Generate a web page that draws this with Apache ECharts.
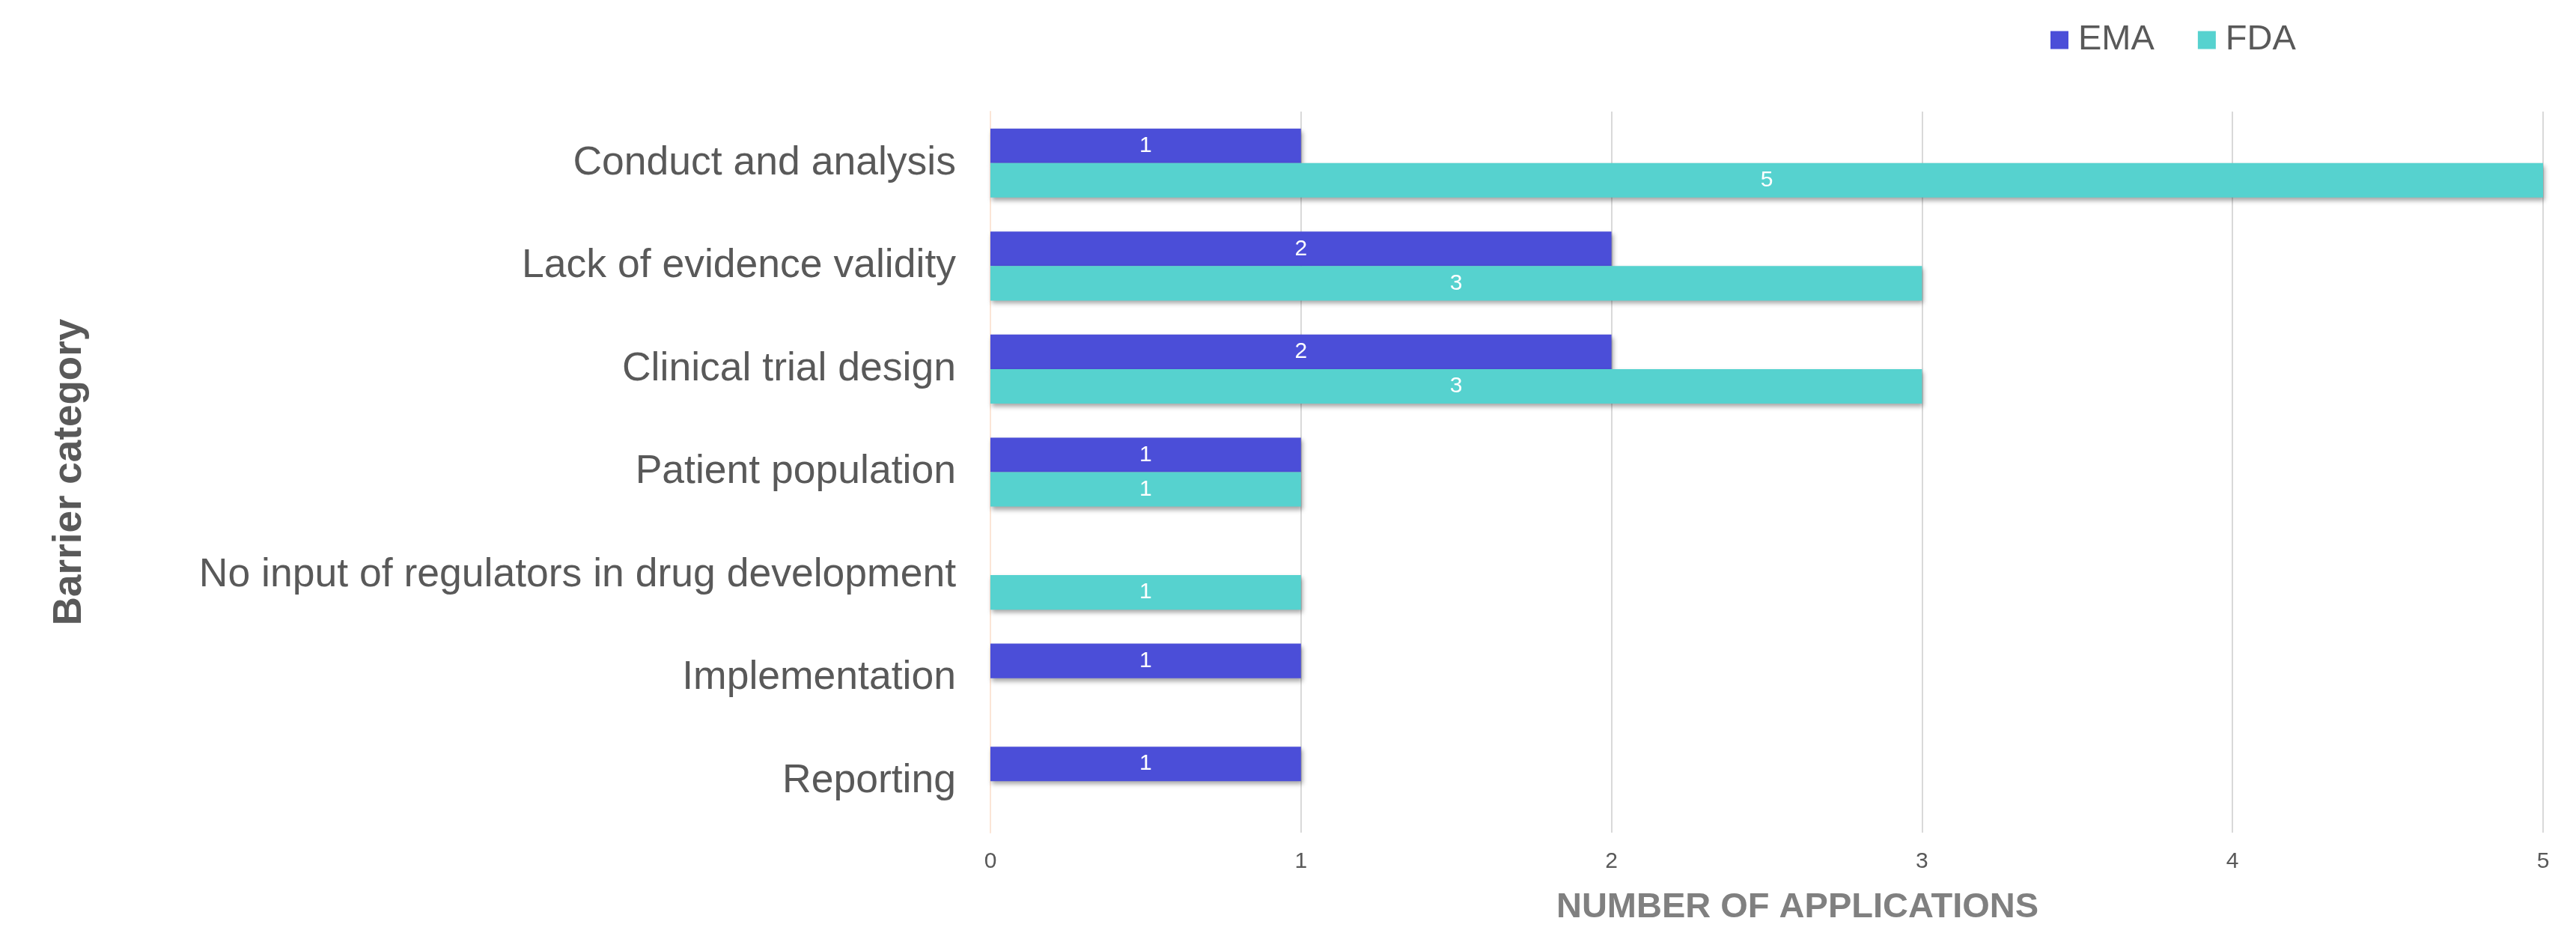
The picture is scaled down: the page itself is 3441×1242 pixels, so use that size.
<!DOCTYPE html>
<html>
<head>
<meta charset="utf-8">
<script src="https://cdn.jsdelivr.net/npm/echarts@6/dist/echarts.min.js"></script>
<style>
    html, body { margin: 0; padding: 0; background: #fff; }
    #chart { width: 3441px; height: 1242px; }
</style>
</head>
<body>
<div id="chart"></div>
<script>
// 类别和数据
var categories = ['Conduct and analysis', 'Lack of evidence validity', 'Clinical trial design',
    'Patient population', 'No input of regulators in drug development', 'Implementation', 'Reporting'];
var emaValues = [1, 2, 2, 1, 0, 1, 1];
var fdaValues = [5, 3, 3, 1, 1, 0, 0];
var xTicks = [0, 1, 2, 3, 4, 5];

var font = "'Liberation Sans', Arial, sans-serif";

function barLabel() {
    return {
        show: true,
        position: 'inside',
        color: '#fff',
        fontSize: 30,
        fontFamily: font,
        formatter: function (p) {
            return p.value === 0 ? '' : p.value;
        }
    };
}

var shadow = {
    shadowColor: 'rgba(0,0,0,0.35)',
    shadowBlur: 6,
    shadowOffsetX: 2,
    shadowOffsetY: 4
};

var myChart = echarts.init(document.getElementById('chart'));
var option = {
    backgroundColor: '#fff',
    animation: false,
    legend: {
        left: 2739,
        top: 30,
        padding: 0,
        itemWidth: 24,
        itemHeight: 24,
        itemGap: 58,
        icon: 'rect',
        textStyle: { fontSize: 47, color: '#595959', fontFamily: font, padding: [0, 0, 0, 8] },
        data: ['EMA', 'FDA']
    },
    grid: { left: 1323, right: 44, top: 149, bottom: 130, containLabel: false },
    xAxis: {
        type: 'value',
        min: xTicks[0],
        max: xTicks[xTicks.length - 1],
        interval: 1,
        name: 'NUMBER OF APPLICATIONS',
        nameLocation: 'middle',
        nameGap: 77,
        nameTextStyle: {
            fontSize: 47, fontWeight: 'bold', color: '#808080', fontFamily: font,
            padding: [0, 0, 0, 82]
        },
        axisLine: { show: false },
        axisTick: { show: false },
        axisLabel: { fontSize: 30, color: '#595959', fontFamily: font, margin: 24 },
        splitLine: { show: true, lineStyle: { color: '#d9d9d9', width: 2 } }
    },
    yAxis: {
        type: 'category',
        inverse: true,
        data: categories,
        name: 'Barrier category',
        nameLocation: 'middle',
        nameGap: 1203,
        nameRotate: 90,
        nameTextStyle: { fontSize: 53, fontWeight: 'bold', color: '#595959', fontFamily: font },
        axisLine: { show: true, lineStyle: { color: '#fbe5d6', width: 2 } },
        axisTick: { show: false },
        axisLabel: { fontSize: 53.5, color: '#595959', fontFamily: font, margin: 46 }
    },
    series: [
        {
            name: 'EMA',
            type: 'bar',
            data: emaValues,
            barGap: '0%',
            barCategoryGap: '33%',
            itemStyle: Object.assign({ color: '#4b4ed8' }, shadow),
            label: barLabel()
        },
        {
            name: 'FDA',
            type: 'bar',
            data: fdaValues,
            barGap: '0%',
            barCategoryGap: '33%',
            itemStyle: Object.assign({ color: '#56d2cf' }, shadow),
            label: barLabel()
        }
    ]
};
myChart.setOption(option);
</script>
</body>
</html>
